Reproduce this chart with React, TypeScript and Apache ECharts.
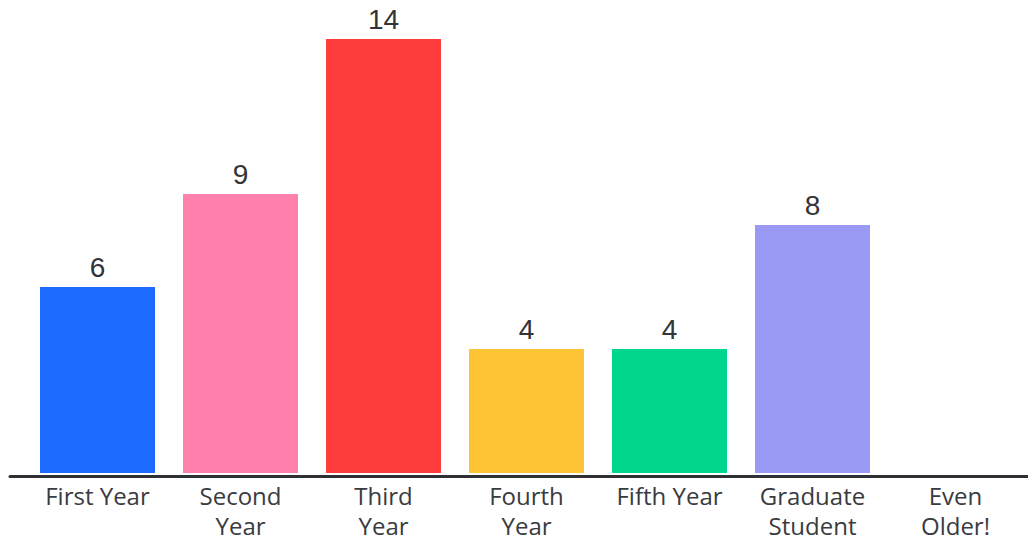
import React, { useEffect, useRef } from "react";
import * as echarts from "echarts";

const categories = ["First Year", "Second\nYear", "Third\nYear", "Fourth\nYear", "Fifth Year", "Graduate\nStudent", "Even\nOlder!"];
const values = [6, 9, 14, 4, 4, 8, 0];
const colors = ["#1E6BFF", "#FF80AC", "#FF3D3D", "#FFC435", "#00D78C", "#9A9AF4", "#cccccc"];

export default function App() {
  const ref = useRef<HTMLDivElement>(null);
  useEffect(() => {
    const chart = echarts.init(ref.current!, null, { renderer: "svg" });
    chart.setOption({
      animation: false,
      grid: [
        { left: 26, right: 1, top: 39, bottom: 64 },
        { left: 10, right: 0, top: 39, bottom: 64 },
      ],
      xAxis: [
        {
          type: "category",
          gridIndex: 0,
          data: categories,
          axisLine: { show: false },
          axisTick: { show: false },
          axisLabel: {
            color: "#3a3b3f",
            fontSize: 24,
            fontFamily: "Open Sans",
            lineHeight: 30,
            margin: 7,
            interval: 0,
          },
        },
        {
          type: "value",
          gridIndex: 1,
          min: 0,
          max: 1,
          axisLine: { show: true, lineStyle: { color: "#2f3033", width: 3 } },
          axisTick: { show: false },
          axisLabel: { show: false },
          splitLine: { show: false },
        },
      ],
      yAxis: [
        { type: "value", gridIndex: 0, min: 0, max: 14, show: false, splitLine: { show: false } },
        { type: "value", gridIndex: 1, min: 0, max: 1, show: false, splitLine: { show: false } },
      ],
      series: [
        {
          type: "bar",
          xAxisIndex: 0,
          yAxisIndex: 0,
          barWidth: 115,
          data: values.map((v, i) => ({
            value: v,
            itemStyle: { color: colors[i] },
            label: { show: v > 0 },
          })),
          label: {
            show: true,
            position: "top",
            distance: 6,
            color: "#333438",
            fontSize: 28,
            fontFamily: "Liberation Sans",
          },
        },
      ],
    });
    return () => chart.dispose();
  }, []);
  return (
    <div
      ref={ref}
      style={{ position: "fixed", left: 0, top: 0, width: 1028, height: 540, background: "#fff" }}
    />
  );
}
